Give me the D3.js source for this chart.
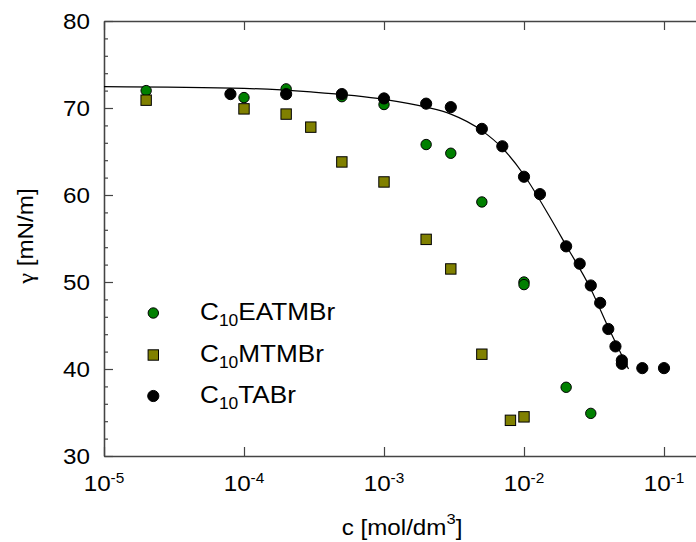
<!DOCTYPE html>
<html>
<head>
<meta charset="utf-8">
<script src="https://cdn.jsdelivr.net/npm/d3@7"></script>
<style>
  html, body { margin: 0; padding: 0; background: #fff; }
  svg { display: block; }
  text { font-family: "Liberation Sans", Arial, sans-serif; fill: #000; }
</style>
</head>
<body>
<svg id="chart" width="696" height="542"></svg>
<script>
// Surface tension isotherms of three decyl surfactants
const concEATMBr  = [2e-5, 1e-4, 2e-4, 5e-4, 1e-3, 2e-3, 3e-3, 5e-3, 1e-2, 1e-2, 2e-2, 3e-2];
const gammaEATMBr = [72.0, 71.2, 72.2, 71.3, 70.4, 65.8, 64.8, 59.2, 50.0, 49.7, 37.9, 34.9];

const concMTMBr  = [2e-5, 1e-4, 2e-4, 3e-4, 5e-4, 1e-3, 2e-3, 3e-3, 5e-3, 8e-3, 1e-2];
const gammaMTMBr = [70.9, 69.9, 69.3, 67.8, 63.8, 61.5, 54.9, 51.5, 41.7, 34.1, 34.5];

const concTABr  = [8e-5, 2e-4, 5e-4, 1e-3, 2e-3, 3e-3, 5e-3, 7e-3, 1e-2, 1.3e-2, 2e-2, 2.5e-2, 3e-2, 3.5e-2, 4e-2, 4.5e-2, 5e-2, 5e-2, 7e-2, 1e-1];
const gammaTABr = [71.6, 71.6, 71.6, 71.1, 70.5, 70.1, 67.6, 65.6, 62.1, 60.1, 54.1, 52.1, 49.6, 47.6, 44.6, 42.6, 41.0, 40.6, 40.1, 40.1];

// fitted isotherm for C10TABr
const fitConc  = [1e-5, 1e-4, 3e-4, 1e-3, 2e-3, 3e-3, 5e-3, 7e-3, 1e-2, 1.5e-2, 2e-2, 3e-2, 4e-2, 5.58e-2];
const fitGamma = [72.45, 72.25, 71.85, 71.0, 70.1, 69.3, 67.4, 65.4, 62.3, 57.7, 54.2, 49.2, 44.8, 40.0];

const xTickExponents = [-5, -4, -3, -2, -1];
const yTicks = [30, 40, 50, 60, 70, 80];
const yMinorTicks = [32, 34, 36, 38, 42, 44, 46, 48, 52, 54, 56, 58, 62, 64, 66, 68, 72, 74, 76, 78];
const legendLabels = ["EATMBr", "MTMBr", "TABr"];

const svg = d3.select("#chart");
const plotLeft = 104, plotTop = 21, plotBottom = 456;
const x = d3.scaleLog().domain([1e-5, Math.pow(10, -0.745)]).range([plotLeft, 699.7]);
const y = d3.scaleLinear().domain([30, 80]).range([plotBottom, plotTop]);
const axisColor = "#444";
const sx = 1.1; // horizontal stretch of the lettering

// axes: ticks point inwards
const gL = svg.append("g").attr("transform", `translate(${plotLeft},0)`)
  .call(d3.axisLeft(y).tickValues(yTicks).tickSizeInner(-9).tickSizeOuter(0).tickPadding(12.7));
const gLm = svg.append("g").attr("transform", `translate(${plotLeft},0)`)
  .call(d3.axisLeft(y).tickValues(yMinorTicks).tickSizeInner(-4).tickSizeOuter(0).tickFormat(""));
const xTickValues = xTickExponents.map(e => Math.pow(10, e));
const gB = svg.append("g").attr("transform", `translate(0,${plotBottom})`)
  .call(d3.axisBottom(x).tickValues(xTickValues).tickSizeInner(-9).tickSizeOuter(0).tickFormat(""));
const gT = svg.append("g").attr("transform", `translate(0,${plotTop})`)
  .call(d3.axisTop(x).tickValues(xTickValues).tickSizeInner(-9).tickSizeOuter(0).tickFormat(""));
const gR = svg.append("g").attr("transform", `translate(${x.range()[1]},0)`)
  .call(d3.axisRight(y).tickValues([]).tickSizeOuter(0));

[gL, gLm, gB, gT, gR].forEach(g => {
  g.selectAll("path.domain").attr("stroke", axisColor).attr("stroke-width", 1.3);
  g.selectAll(".tick line").attr("stroke", axisColor).attr("stroke-width", 1.2);
});
gL.selectAll(".tick text")
  .attr("font-size", 22).attr("font-family", "Liberation Sans, Arial, sans-serif")
  .attr("fill", "#000").attr("dy", "0.36em")
  .attr("transform", `scale(${sx},1)`);

// decade labels on the x axis
const xl = svg.append("g").selectAll("text").data(xTickExponents).join("text")
  .attr("transform", e => `translate(${x(Math.pow(10, e))},491) scale(${sx},1)`)
  .attr("text-anchor", "middle").attr("font-size", 22);
xl.append("tspan").text("10");
xl.append("tspan").attr("font-size", 14).attr("dy", -8).text(e => String(e));

// fitted curve
const line = d3.line().x((d, i) => x(fitConc[i])).y(d => y(d)).curve(d3.curveMonotoneX);
svg.append("path").datum(fitGamma).attr("d", line)
  .attr("fill", "none").attr("stroke", "#000").attr("stroke-width", 1.2);

// data markers
svg.append("g").selectAll("circle").data(gammaEATMBr).join("circle")
  .attr("cx", (d, i) => x(concEATMBr[i])).attr("cy", d => y(d)).attr("r", 5.2)
  .attr("fill", "#008000").attr("stroke", "#000").attr("stroke-width", 1);
const sq = 10.4;
svg.append("g").selectAll("rect").data(gammaMTMBr).join("rect")
  .attr("x", (d, i) => x(concMTMBr[i]) - sq / 2).attr("y", d => y(d) - sq / 2)
  .attr("width", sq).attr("height", sq)
  .attr("fill", "#808000").attr("stroke", "#000").attr("stroke-width", 1);
svg.append("g").selectAll("circle").data(gammaTABr).join("circle")
  .attr("cx", (d, i) => x(concTABr[i])).attr("cy", d => y(d)).attr("r", 5.6)
  .attr("fill", "#000").attr("stroke", "#000").attr("stroke-width", 1);

// legend
const legY = [313, 355, 396];
const lg = svg.append("g");
lg.append("circle").attr("cx", 153.3).attr("cy", legY[0]).attr("r", 5.2)
  .attr("fill", "#008000").attr("stroke", "#000");
lg.append("rect").attr("x", 153.3 - sq / 2).attr("y", legY[1] - sq / 2).attr("width", sq).attr("height", sq)
  .attr("fill", "#808000").attr("stroke", "#000");
lg.append("circle").attr("cx", 153.3).attr("cy", legY[2]).attr("r", 5.6)
  .attr("fill", "#000").attr("stroke", "#000");
const lt = lg.selectAll("text").data(legendLabels).join("text")
  .attr("transform", (d, i) => `translate(200,${legY[i] + 7}) scale(1.09,1)`)
  .attr("font-size", 24);
lt.append("tspan").text("C");
lt.append("tspan").attr("font-size", 16).attr("dy", 6).text("10");
lt.append("tspan").attr("dy", -6).text(d => d);

// axis titles
const yt = svg.append("text")
  .attr("transform", `translate(33,236) rotate(-90) scale(${sx},1)`)
  .attr("text-anchor", "middle").attr("font-size", 22);
yt.append("tspan").attr("font-family", "Liberation Serif, DejaVu Serif, serif").text("γ");
yt.append("tspan").text(" [mN/m]");

const xt = svg.append("text")
  .attr("transform", `translate(402,535) scale(${sx},1)`)
  .attr("text-anchor", "middle").attr("font-size", 22);
xt.append("tspan").text("c [mol/dm");
xt.append("tspan").attr("font-size", 15).attr("dy", -11).text("3");
xt.append("tspan").attr("dy", 11).text("]");
</script>
</body>
</html>
